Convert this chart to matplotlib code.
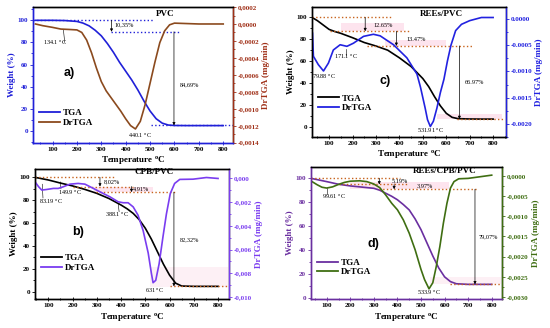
import numpy as np
import matplotlib
matplotlib.use('Agg')
import matplotlib.pyplot as plt
from matplotlib.ticker import FuncFormatter, MultipleLocator
from matplotlib.lines import Line2D

plt.rcParams['font.family'] = ['Liberation Serif', 'DejaVu Serif']
plt.rcParams['font.weight'] = 'bold'
plt.rcParams['axes.labelweight'] = 'bold'

# ---- panel a) PVC ----
a_t_tga = [30, 60, 100, 150, 200, 225, 250, 275, 300, 325, 350, 375, 400, 425, 450, 475, 500, 525, 550, 575, 600, 650, 700, 750, 800]
a_tga = [100, 100, 100, 99.8, 99, 97.5, 95, 91, 86, 79, 71, 62, 54, 46, 37, 27, 18, 11, 7, 5.3, 4.9, 4.8, 4.8, 4.8, 4.8]
a_t_dtg = [30, 60, 100, 134, 170, 200, 220, 240, 260, 280, 300, 320, 340, 360, 380, 400, 420, 440, 460, 480, 500, 520, 540, 560, 580, 600, 650, 700, 750, 800]
a_dtg = [0.0, -0.2, -0.4, -0.6, -0.65, -0.7, -1.0, -1.9, -3.4, -5.2, -6.8, -7.9, -8.7, -9.5, -10.3, -11.2, -12.0, -12.4, -11.5, -9.5, -7.0, -4.5, -2.2, -0.8, -0.1, 0.1, 0.05, 0.0, 0.0, 0.0]  # x1e-4

# ---- panel b) CPB/PVC ----
b_t_tga = [45, 100, 150, 200, 250, 300, 350, 400, 425, 450, 475, 500, 525, 550, 575, 600, 625, 650, 700, 750, 800]
b_tga = [100, 97.7, 95, 92.5, 89.5, 86, 81.5, 75.8, 72.5, 68.5, 63, 55.5, 46, 35, 24, 14.5, 7.5, 5, 4.7, 4.7, 4.7]
b_t_dtg = [45, 60, 73, 93, 121, 141, 162, 189, 223, 251, 278, 313, 354, 388, 409, 429, 450, 470, 491, 512, 525, 532, 543, 557, 573, 587, 603, 621, 642, 697, 752, 800]
b_dtg = [-0.28, -0.7, -0.98, -0.93, -0.84, -0.84, -0.7, -0.48, -0.42, -0.48, -0.76, -1.13, -1.55, -1.97, -2.05, -2.05, -2.4, -3.1, -4.4, -6.3, -8.0, -8.8, -8.6, -7.2, -4.9, -3.0, -1.27, -0.42, -0.08, -0.06, 0.08, 0.0]  # x1e-3

# ---- panel c) REEs/PVC ----
c_t_tga = [27, 50, 75, 100, 125, 150, 200, 250, 300, 350, 400, 450, 500, 525, 550, 575, 600, 625, 650, 700, 750, 800]
c_tga = [100, 97, 93, 89, 87, 85.4, 81.4, 77, 73.8, 70, 63, 55, 44, 36.6, 27.4, 19, 12.2, 8.5, 7.3, 7, 6.9, 6.9]
c_t_dtg = [29, 33, 54, 76, 97, 118, 147, 176, 204, 247, 289, 318, 375, 432, 475, 490, 510, 520, 532, 545, 560, 575, 590, 605, 620, 640, 665, 700, 750, 800]
c_dtg = [-2.7, -7.1, -8.7, -9.9, -8.4, -5.9, -4.9, -5.2, -4.6, -3.3, -2.9, -3.2, -4.9, -7.4, -10.5, -13.0, -17.0, -19.2, -20.5, -19.5, -17.0, -14.0, -11.5, -8.0, -5.0, -2.2, -1.0, -0.3, 0.3, 0.3]  # x1e-4

# ---- panel d) REEs/CPB/PVC ----
d_t_tga = [32, 100, 150, 200, 250, 300, 325, 350, 375, 400, 425, 450, 475, 500, 525, 550, 575, 600, 625, 650, 700, 750, 800]
d_tga = [100, 97.2, 95, 93.6, 92.6, 91.6, 90, 87.5, 85, 82, 78, 73.5, 66, 57, 46, 35, 25, 17.5, 13.5, 11.7, 11.2, 11.2, 11.2]
d_t_dtg = [32, 60, 80, 100, 125, 150, 175, 200, 240, 270, 300, 325, 350, 376, 400, 425, 450, 475, 500, 515, 534, 550, 565, 580, 595, 610, 625, 640, 660, 700, 750, 800]
d_dtg = [-1.2, -2.2, -2.8, -3.0, -2.7, -2.1, -1.6, -1.3, -1.2, -1.4, -2.0, -2.9, -4.7, -6.8, -8.4, -10.9, -14.2, -18.3, -23.2, -25.7, -28.0, -26.5, -22.4, -17.5, -11.7, -6.8, -3.0, -1.4, -0.7, -0.6, -0.2, 0.2]  # x1e-4

pink = '#fde4ee'
dot_col = '#c8641e'


def fmt(dec, comma):
    def f(v, pos):
        s = f'{v:.{dec}f}'
        if float(s) == 0:
            s = f'{0:.{dec}f}'
        return s.replace('.', ',') if comma else s
    return FuncFormatter(f)


def setup(ax, ax2, xlim, ylim, y2lim, y2major, dec, comma, lcol, rcol, bcol):
    ax.set_xlim(*xlim)
    ax.set_ylim(*ylim)
    ax2.set_ylim(*y2lim)
    ax.xaxis.set_major_locator(MultipleLocator(100))
    ax.xaxis.set_minor_locator(MultipleLocator(50))
    ax.yaxis.set_major_locator(MultipleLocator(20))
    ax.yaxis.set_minor_locator(MultipleLocator(10))
    ax2.yaxis.set_major_locator(MultipleLocator(y2major))
    ax2.yaxis.set_minor_locator(MultipleLocator(y2major / 2))
    ax2.yaxis.set_major_formatter(fmt(dec, comma))
    for a in (ax, ax2):
        for s in a.spines.values():
            s.set_linewidth(1.0)
    ax.spines['left'].set_color(lcol)
    ax.spines['bottom'].set_color(bcol)
    ax2.spines['left'].set_color(lcol)
    ax2.spines['bottom'].set_color(bcol)
    ax2.spines['right'].set_color(rcol)
    ax.tick_params(axis='x', which='both', direction='inout', labelsize=5, pad=1.5, width=0.6, color=bcol)
    ax.tick_params(axis='x', which='major', length=3)
    ax.tick_params(axis='x', which='minor', length=1.5)
    ax.tick_params(axis='y', which='both', direction='out', labelsize=5, pad=1, width=0.6, color=lcol, labelcolor=lcol)
    ax.tick_params(axis='y', which='major', length=2.5)
    ax.tick_params(axis='y', which='minor', length=1.5)
    ax2.tick_params(axis='y', which='both', direction='out', labelsize=5, pad=1, width=0.6, color=rcol, labelcolor=rcol)
    ax2.tick_params(axis='y', which='major', length=2.5)
    ax2.tick_params(axis='y', which='minor', length=1.5)
    ax.set_xlabel('Temperature $\\mathregular{^o}$C', fontsize=6.5, labelpad=1.5)
    ax.set_ylabel('Weight (%)', fontsize=6.5, color=lcol, labelpad=1)
    ax2.set_ylabel('DrTGA (mg/min)', fontsize=6.5, color=rcol, labelpad=2)


def arrow(ax, x, y0, y1):
    ax.annotate('', xy=(x, y1), xytext=(x, y0),
                arrowprops=dict(arrowstyle='-|>', color='k', lw=0.5, mutation_scale=4, shrinkA=0, shrinkB=0))


def hdot(ax, x0, x1, y, col):
    ax.plot([x0, x1], [y, y], ls=':', color=col, lw=1.0)


def legend(ax, c1, c2, y):
    h = [Line2D([], [], color=c1, lw=1.3), Line2D([], [], color=c2, lw=1.3)]
    ax.legend(h, ['TGA', 'DrTGA'], loc='center left', bbox_to_anchor=(0.0, y), frameon=False,
              fontsize=6.5, handlelength=2.3, handletextpad=0.3, labelspacing=0.15, borderaxespad=0.3)


fig = plt.figure(figsize=(5.5, 3.28), dpi=100)

# ===== a) =====
blue_a = '#2020d8'
brown = '#8b4a1e'
red_ax = '#a03018'
ax = fig.add_axes([0.060, 0.5655, 0.3636, 0.413])
ax2 = ax.twinx()
setup(ax, ax2, (20, 840), (-10.5, 112), (-0.0014, 0.0002), 0.0002, 4, True, blue_a, red_ax, blue_a)
ax.plot(a_t_tga, a_tga, color=blue_a, lw=1.2)
ax2.plot(a_t_dtg, np.array(a_dtg) * 1e-4, color=brown, lw=1.2)
hdot(ax, 20, 515, 100, blue_a)
hdot(ax, 340, 620, 89.65, blue_a)
hdot(ax, 505, 840, 5.0, blue_a)
arrow(ax, 342, 100, 89.65)
arrow(ax, 598, 89.65, 5.0)
ax.text(355, 94.5, '10,35%', fontsize=4.5, fontweight='normal')
ax.text(620, 40, '84,69%', fontsize=4.5, fontweight='normal')
ax.plot([145, 150], [91, 80], color='k', lw=0.4)
ax.text(62, 77.5, '134.1 $\\mathregular{^o}$C', fontsize=4.5, fontweight='normal')
ax.text(460, -6, '440.1 $\\mathregular{^o}$C', fontsize=4.5, fontweight='normal', ha='center')
ax.text(560, 104, 'PVC', fontsize=6.5, ha='center')
ax.text(170, 52, 'a)', fontsize=9, family='Liberation Sans', ha='center', va='center')
legend(ax, blue_a, brown, 0.18)

# ===== b) =====
purple_b = '#7a3df0'
ax = fig.add_axes([0.0636, 0.0875, 0.3527, 0.3973])
ax2 = ax.twinx()
setup(ax, ax2, (45, 845), (-6.6, 107.3), (-0.0102, 0.0008), 0.002, 3, True, 'k', purple_b, 'k')
ax.fill_between([290, 530], 87.07, 91.98, color=pink, lw=0)
ax.fill_between([520, 840], 4.0, 22, color='#fdf0f5', lw=0)
ax.plot(b_t_tga, b_tga, color='k', lw=1.2)
ax2.plot(b_t_dtg, np.array(b_dtg) * 1e-3, color=purple_b, lw=1.2)
hdot(ax, 45, 375, 100, dot_col)
hdot(ax, 200, 450, 91.98, dot_col)
hdot(ax, 295, 625, 87.07, dot_col)
hdot(ax, 600, 840, 4.75, dot_col)
arrow(ax, 313, 100, 91.98)
arrow(ax, 443, 91.98, 87.07)
arrow(ax, 618, 87.07, 4.75)
ax.text(328, 94.5, '8,02%', fontsize=4.5, fontweight='normal')
ax.text(447, 88.2, '4,91%', fontsize=4.5, fontweight='normal')
ax.text(640, 44, '82,32%', fontsize=4.5, fontweight='normal')
ax.plot([75, 78], [94, 82], color='k', lw=0.4)
ax.text(63, 76.5, '83.19 $\\mathregular{^o}$C', fontsize=4.5, fontweight='normal')
ax.plot([150, 152], [96, 90], color='k', lw=0.4)
ax.text(140, 84.5, '149.9 $\\mathregular{^o}$C', fontsize=4.5, fontweight='normal')
ax.plot([388, 392], [77, 70], color='k', lw=0.4)
ax.text(335, 65.5, '388.1 $\\mathregular{^o}$C', fontsize=4.5, fontweight='normal')
ax.text(540, -1, '631 $\\mathregular{^o}$C', fontsize=4.5, fontweight='normal', ha='center')
ax.text(535, 102.5, 'CPB/PVC', fontsize=6.5, ha='center')
ax.text(222, 52, 'b)', fontsize=9, family='Liberation Sans', ha='center', va='center')
legend(ax, 'k', purple_b, 0.28)

# ===== c) =====
blue_c = '#2222e0'
ax = fig.add_axes([0.5673, 0.5823, 0.3527, 0.3963])
ax2 = ax.twinx()
setup(ax, ax2, (27, 855), (-9.5, 109.5), (-0.00225, 0.00023), 0.0005, 4, False, 'k', blue_c, 'k')
ax.fill_between([150, 420], 87.35, 95, color=pink, lw=0)
ax.fill_between([340, 600], 73.88, 79, color=pink, lw=0)
ax.fill_between([560, 840], 6.91, 12, color=pink, lw=0)
ax.plot(c_t_tga, c_tga, color='k', lw=1.2)
ax2.plot(c_t_dtg, np.array(c_dtg) * 1e-4, color=blue_c, lw=1.2)
hdot(ax, 27, 368, 100, dot_col)
hdot(ax, 104, 447, 87.35, dot_col)
hdot(ax, 261, 710, 73.88, dot_col)
hdot(ax, 646, 846, 6.91, dot_col)
arrow(ax, 254, 100, 87.35)
arrow(ax, 387, 87.35, 73.88)
arrow(ax, 656, 73.88, 6.91)
ax.text(290, 91.5, '12.65%', fontsize=4.5, fontweight='normal')
ax.text(430, 78.5, '13.47%', fontsize=4.5, fontweight='normal')
ax.text(680, 39, '66.97%', fontsize=4.5, fontweight='normal')
ax.plot([171, 171], [71, 66], color='k', lw=0.4)
ax.text(122, 61.5, '171.1 $\\mathregular{^o}$C', fontsize=4.5, fontweight='normal')
ax.text(28, 43.5, '79.88 $\\mathregular{^o}$C', fontsize=4.5, fontweight='normal')
ax.text(532, -6, '531.91 $\\mathregular{^o}$C', fontsize=4.5, fontweight='normal', ha='center')
ax.text(580, 101.5, 'REEs/PVC', fontsize=6.5, ha='center')
ax.text(340, 42, 'c)', fontsize=9, family='Liberation Sans', ha='center', va='center')
legend(ax, 'k', blue_c, 0.26)

# ===== d) =====
purple_d = '#6a2fa0'
green = '#3f6e12'
ax = fig.add_axes([0.5649, 0.0875, 0.3484, 0.4043])
ax2 = ax.twinx()
setup(ax, ax2, (32, 845), (-1.3, 109.7), (-0.00306, 0.00023), 0.0005, 4, True, purple_d, green, purple_d)
ax.fill_between([200, 620], 90.84, 97, color=pink, lw=0)
ax.fill_between([540, 840], 11.2, 17, color='#fdf0f5', lw=0)
ax.plot(d_t_tga, d_tga, color=purple_d, lw=1.2)
ax2.plot(d_t_dtg, np.array(d_dtg) * 1e-4, color=green, lw=1.2)
hdot(ax, 32, 412, 100, dot_col)
hdot(ax, 150, 445, 94.81, dot_col)
hdot(ax, 322, 743, 90.84, dot_col)
hdot(ax, 625, 835, 11.2, dot_col)
arrow(ax, 323, 100, 94.81)
arrow(ax, 386, 94.81, 90.84)
arrow(ax, 729, 90.84, 11.2)
ax.text(375, 97, '5,19%', fontsize=4.5, fontweight='normal')
ax.text(483, 92, '3,97%', fontsize=4.5, fontweight='normal')
ax.text(744, 50, '79,07%', fontsize=4.5, fontweight='normal')
ax.plot([100, 100], [92, 87], color='k', lw=0.4)
ax.text(80, 83, '99.61 $\\mathregular{^o}$C', fontsize=4.5, fontweight='normal')
ax.text(532, 2, '533.9 $\\mathregular{^o}$C', fontsize=4.5, fontweight='normal', ha='center')
ax.text(600, 104, 'REEs/CPB/PVC', fontsize=6.5, ha='center')
ax.text(300, 45, 'd)', fontsize=9, family='Liberation Sans', ha='center', va='center')
legend(ax, purple_d, green, 0.24)

fig.savefig('out.png', dpi=100)
